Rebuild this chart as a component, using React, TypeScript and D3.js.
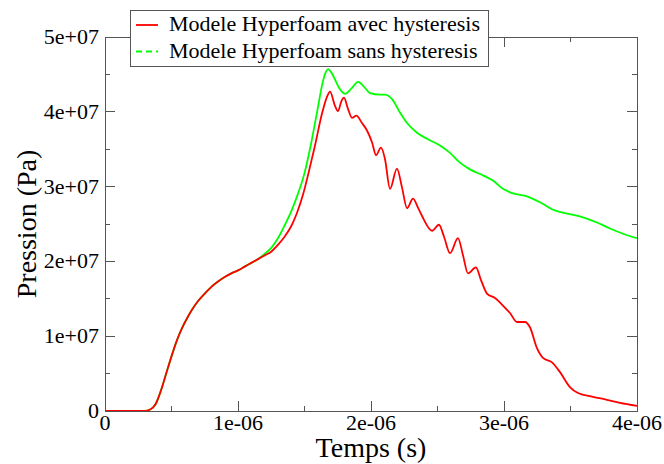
import React from "react";
import * as d3 from "d3";

// ---- Data (time in microseconds, pressure in units of 1e7 Pa) ----
const riseTime = [0, 0.2, 0.3, 0.34, 0.38, 0.42, 0.46, 0.5, 0.54, 0.58, 0.62, 0.66, 0.7, 0.75, 0.8, 0.85, 0.9, 0.95, 1.0, 1.05, 1.1, 1.15];
const risePressure = [0, 0, 0, 0.02, 0.09, 0.27, 0.5, 0.73, 0.94, 1.11, 1.25, 1.37, 1.47, 1.57, 1.66, 1.73, 1.79, 1.84, 1.88, 1.93, 1.98, 2.03];

const greenTime = [1.2, 1.25, 1.3, 1.35, 1.4, 1.45, 1.5, 1.55, 1.6, 1.635, 1.66, 1.677, 1.7, 1.735, 1.767, 1.805, 1.857, 1.902, 1.955, 1.992, 2.068, 2.105, 2.158, 2.218, 2.271, 2.346, 2.421, 2.519, 2.594, 2.669, 2.744, 2.842, 2.917, 2.992, 3.068, 3.173, 3.271, 3.368, 3.474, 3.594, 3.699, 3.797, 3.895, 4.0];
const greenPressure = [2.1, 2.18, 2.31, 2.48, 2.67, 2.9, 3.18, 3.58, 4.05, 4.38, 4.53, 4.57, 4.53, 4.41, 4.3, 4.24, 4.32, 4.4, 4.32, 4.25, 4.23, 4.23, 4.17, 3.99, 3.85, 3.72, 3.64, 3.55, 3.45, 3.32, 3.23, 3.15, 3.08, 2.97, 2.91, 2.87, 2.79, 2.69, 2.64, 2.59, 2.52, 2.44, 2.37, 2.31];

const redTime = [1.2, 1.25, 1.3, 1.35, 1.4, 1.444, 1.49, 1.53, 1.579, 1.632, 1.669, 1.692, 1.729, 1.752, 1.777, 1.797, 1.827, 1.857, 1.89, 1.932, 1.97, 2.008, 2.038, 2.075, 2.105, 2.143, 2.195, 2.233, 2.271, 2.316, 2.353, 2.383, 2.459, 2.511, 2.549, 2.594, 2.654, 2.692, 2.729, 2.789, 2.827, 2.872, 2.932, 2.992, 3.045, 3.098, 3.158, 3.195, 3.248, 3.293, 3.361, 3.421, 3.496, 3.556, 3.669, 3.774, 3.872, 4.0];
const redPressure = [2.08, 2.13, 2.22, 2.33, 2.47, 2.65, 2.9, 3.18, 3.55, 3.98, 4.2, 4.27, 4.08, 4.01, 4.14, 4.19, 4.04, 3.92, 3.95, 3.85, 3.75, 3.59, 3.42, 3.52, 3.37, 2.97, 3.24, 2.99, 2.71, 2.84, 2.72, 2.61, 2.41, 2.49, 2.33, 2.11, 2.31, 2.08, 1.84, 1.92, 1.75, 1.57, 1.51, 1.41, 1.31, 1.19, 1.19, 1.12, 0.84, 0.71, 0.65, 0.52, 0.32, 0.24, 0.19, 0.15, 0.11, 0.07];

const xMajorTicks = [0, 1e-6, 2e-6, 3e-6, 4e-6];
const xMinorTicks = [0.5e-6, 1.5e-6, 2.5e-6, 3.5e-6];
const yMajorTicks = [0, 1e7, 2e7, 3e7, 4e7, 5e7];
const yMinorTicks = [0.5e7, 1.5e7, 2.5e7, 3.5e7, 4.5e7];

const seriesLabels = ["Modele Hyperfoam avec hysteresis", "Modele Hyperfoam sans hysteresis"];
const xTitle = "Temps (s)";
const yTitle = "Pression (Pa)";

const US = 1e-6;
const P = 1e7;

function fmt(v: number): string {
  if (v === 0) return "0";
  const [m, e] = v.toExponential(0).split("e");
  const sign = e[0] === "-" ? "-" : "+";
  const digits = e.replace(/[+-]/, "").padStart(2, "0");
  return `${m}e${sign}${digits}`;
}

export default function App() {
  const W = 664, H = 464;
  const left = 105, right = 637, top = 37, bottom = 411;
  const x = d3.scaleLinear().domain([0, 4e-6]).range([left, right]);
  const y = d3.scaleLinear().domain([0, 5e7]).range([bottom, top]);

  const greenPts: [number, number][] = [
    ...riseTime.map((t, i) => [t * US, risePressure[i] * P] as [number, number]),
    ...greenTime.map((t, i) => [t * US, greenPressure[i] * P] as [number, number]),
  ];
  const redPts: [number, number][] = [
    ...riseTime.map((t, i) => [t * US, risePressure[i] * P] as [number, number]),
    ...redTime.map((t, i) => [t * US, redPressure[i] * P] as [number, number]),
  ];

  const line = d3
    .line<[number, number]>()
    .x((d) => x(d[0]))
    .y((d) => y(d[1]))
    .curve(d3.curveMonotoneX);

  const font = "'Liberation Serif', 'DejaVu Serif', 'Times New Roman', serif";
  const ts = { fontFamily: font };
  const axisColor = "#555";
  const major = 10, minor = 5;

  return (
    <svg
      width={W}
      height={H}
      style={{ position: "absolute", left: 0, top: 0, background: "#fff", fontFamily: font }}
    >
      <rect x={0} y={0} width={W} height={H} fill="#fff" />
      {/* curves */}
      <path d={line(greenPts) || ""} fill="none" stroke="#00ff00" strokeWidth={1.8} />
      <path d={line(redPts) || ""} fill="none" stroke="#ff0000" strokeWidth={1.8} />

      {/* frame */}
      <rect x={left} y={top} width={right - left} height={bottom - top} fill="none" stroke={axisColor} strokeWidth={1} shapeRendering="crispEdges" />

      {/* ticks */}
      <g stroke={axisColor} strokeWidth={1} shapeRendering="crispEdges">
        {xMajorTicks.map((t) => (
          <g key={"xm" + t}>
            <line x1={x(t)} x2={x(t)} y1={bottom} y2={bottom - major} />
            <line x1={x(t)} x2={x(t)} y1={top} y2={top + major} />
          </g>
        ))}
        {xMinorTicks.map((t) => (
          <g key={"xn" + t}>
            <line x1={x(t)} x2={x(t)} y1={bottom} y2={bottom - minor} />
            <line x1={x(t)} x2={x(t)} y1={top} y2={top + minor} />
          </g>
        ))}
        {yMajorTicks.map((t) => (
          <g key={"ym" + t}>
            <line x1={left} x2={left + major} y1={y(t)} y2={y(t)} />
            <line x1={right} x2={right - major} y1={y(t)} y2={y(t)} />
          </g>
        ))}
        {yMinorTicks.map((t) => (
          <g key={"yn" + t}>
            <line x1={left} x2={left + minor} y1={y(t)} y2={y(t)} />
            <line x1={right} x2={right - minor} y1={y(t)} y2={y(t)} />
          </g>
        ))}
      </g>

      {/* tick labels */}
      <g fontSize={22} fill="#000">
        {xMajorTicks.map((t) => (
          <text key={"xl" + t} x={x(t)} y={bottom + 19} textAnchor="middle" style={ts}>
            {fmt(t)}
          </text>
        ))}
        {yMajorTicks.map((t) => (
          <text key={"yl" + t} x={left - 6} y={y(t) + 7} textAnchor="end" style={ts}>
            {fmt(t)}
          </text>
        ))}
      </g>

      {/* axis titles */}
      <text x={(left + right) / 2} y={457} textAnchor="middle" fontSize={28} style={ts}>
        {xTitle}
      </text>
      <text transform={`translate(36, ${(top + bottom) / 2}) rotate(-90)`} textAnchor="middle" fontSize={28} style={ts}>
        {yTitle}
      </text>

      {/* legend */}
      <rect x={130.5} y={10.5} width={358} height={56} fill="#fff" stroke={axisColor} strokeWidth={1} />
      <line x1={136} x2={158} y1={25} y2={25} stroke="#ff0000" strokeWidth={1.8} />
      <line x1={136} x2={158} y1={51.5} y2={51.5} stroke="#00ff00" strokeWidth={1.8} strokeDasharray="6,4" />
      <text x={169} y={31} fontSize={22} style={ts}>{seriesLabels[0]}</text>
      <text x={169} y={57.5} fontSize={22} style={ts}>{seriesLabels[1]}</text>
    </svg>
  );
}
